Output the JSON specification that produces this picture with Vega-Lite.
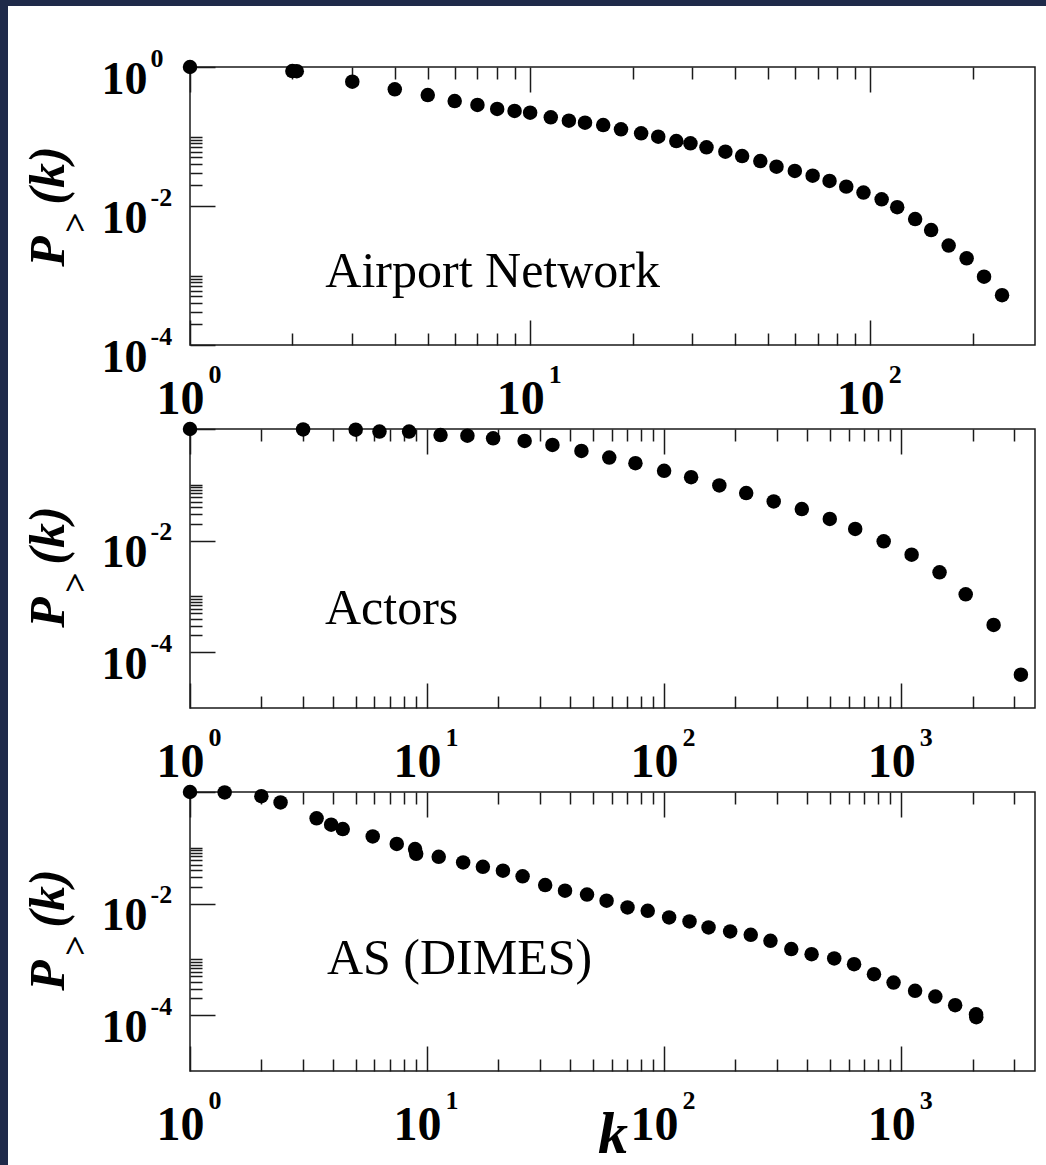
{
  "$schema": "https://vega.github.io/schema/vega-lite/v6.json",
  "autosize": {"type": "none"},
  "padding": {"left": 0, "top": 67, "right": 1046, "bottom": 1098},
  "background": "#1f2a4a",
  "spacing": 189,
  "bounds": "flush",
  "resolve": {"scale": {"color": "independent"}, "legend": {"color": "independent"}},
  "config": {
    "view": {"stroke": "#1a1a1a", "strokeWidth": 1.5},
    "axis": {
      "domain": false, "grid": false,
      "tickColor": "#1a1a1a", "tickWidth": 1.5,
      "labelFont": "Liberation Serif", "labelFontWeight": "bold", "labelFontSize": 46, "labelColor": "black",
      "labelOverlap": false, "labelFlush": false, "labelBound": false,
      "titleFont": "Liberation Serif", "titleFontWeight": "bold", "titleFontStyle": "italic", "titleColor": "black", "titleFontSize": 50
    }
  },
  "datasets": {
    "airport": [
      {"k": 1, "P": 1}, {"k": 2, "P": 0.875}, {"k": 2.06, "P": 0.87}, {"k": 3, "P": 0.615}, {"k": 4, "P": 0.478},
      {"k": 5, "P": 0.395}, {"k": 6, "P": 0.324}, {"k": 7, "P": 0.284}, {"k": 8, "P": 0.249}, {"k": 9, "P": 0.233},
      {"k": 10, "P": 0.22}, {"k": 11.5, "P": 0.189}, {"k": 13, "P": 0.169}, {"k": 14.5, "P": 0.158}, {"k": 16.4, "P": 0.146},
      {"k": 18.5, "P": 0.127}, {"k": 21.2, "P": 0.111}, {"k": 23.8, "P": 0.0993}, {"k": 26.9, "P": 0.086}, {"k": 29.6, "P": 0.0798},
      {"k": 33, "P": 0.07}, {"k": 37.5, "P": 0.0605}, {"k": 42, "P": 0.0524}, {"k": 47.5, "P": 0.0444}, {"k": 53, "P": 0.0368},
      {"k": 60, "P": 0.0319}, {"k": 67.7, "P": 0.0273}, {"k": 75.9, "P": 0.0229}, {"k": 85, "P": 0.019}, {"k": 95.5, "P": 0.0156},
      {"k": 108, "P": 0.0125}, {"k": 120, "P": 0.0096}, {"k": 135.5, "P": 0.0065}, {"k": 151, "P": 0.0045}, {"k": 170, "P": 0.0027},
      {"k": 192, "P": 0.00177}, {"k": 216, "P": 0.00096}, {"k": 244, "P": 0.00052}
    ],
    "actors": [
      {"k": 1, "P": 1}, {"k": 3, "P": 0.98}, {"k": 5, "P": 0.97}, {"k": 6.3, "P": 0.9}, {"k": 8.4, "P": 0.9},
      {"k": 11.4, "P": 0.78}, {"k": 14.8, "P": 0.76}, {"k": 19, "P": 0.68}, {"k": 25.8, "P": 0.61}, {"k": 33.8, "P": 0.518},
      {"k": 44.8, "P": 0.405}, {"k": 58.7, "P": 0.308}, {"k": 75.7, "P": 0.244}, {"k": 100, "P": 0.178}, {"k": 130, "P": 0.137},
      {"k": 171, "P": 0.0973}, {"k": 222, "P": 0.071}, {"k": 290, "P": 0.0504}, {"k": 381, "P": 0.0367}, {"k": 500, "P": 0.0244},
      {"k": 640, "P": 0.0162}, {"k": 844, "P": 0.0097}, {"k": 1107, "P": 0.0056}, {"k": 1452, "P": 0.0027}, {"k": 1872, "P": 0.00109},
      {"k": 2455, "P": 0.000308}, {"k": 3200, "P": 0.0000395}
    ],
    "as": [
      {"k": 1, "P": 1}, {"k": 1.4, "P": 0.98}, {"k": 2, "P": 0.84}, {"k": 2.41, "P": 0.65}, {"k": 3.42, "P": 0.337},
      {"k": 3.94, "P": 0.259}, {"k": 4.41, "P": 0.217}, {"k": 5.9, "P": 0.16}, {"k": 7.45, "P": 0.117}, {"k": 8.9, "P": 0.095},
      {"k": 9.0, "P": 0.078}, {"k": 11.2, "P": 0.069}, {"k": 14.2, "P": 0.0547}, {"k": 17.2, "P": 0.0457}, {"k": 20.9, "P": 0.0388},
      {"k": 25.3, "P": 0.0308}, {"k": 31.5, "P": 0.0215}, {"k": 38.2, "P": 0.017}, {"k": 47.3, "P": 0.0145}, {"k": 57.2, "P": 0.01125},
      {"k": 70.1, "P": 0.00853}, {"k": 85.3, "P": 0.00743}, {"k": 105, "P": 0.00565}, {"k": 128, "P": 0.00479}, {"k": 154, "P": 0.00374},
      {"k": 190, "P": 0.00317}, {"k": 232, "P": 0.00276}, {"k": 281, "P": 0.00215}, {"k": 344, "P": 0.00153}, {"k": 419, "P": 0.00124},
      {"k": 522, "P": 0.00104}, {"k": 633, "P": 0.00082}, {"k": 768, "P": 0.000543}, {"k": 929, "P": 0.000385}, {"k": 1145, "P": 0.000273},
      {"k": 1394, "P": 0.000216}, {"k": 1690, "P": 0.000151}, {"k": 2070, "P": 0.000104}, {"k": 2075, "P": 0.000092}
    ]
  },
  "hconcat": [
    {
      "width": 1, "height": 1,
      "view": {"stroke": null, "fill": null},
      "data": {"values": [{"v": 0}, {"v": 1}]},
      "mark": {"type": "point", "opacity": 0},
      "encoding": {
        "color": {"field": "v", "type": "quantitative", "scale": {"range": ["white", "white"]},
          "legend": {"type": "gradient", "orient": "none", "legendX": 8, "legendY": -61, "direction": "vertical",
            "gradientLength": 1200, "gradientThickness": 1100, "gradientStrokeWidth": 0, "padding": 0,
            "fillColor": "white", "strokeColor": null, "title": null, "labelExpr": "''", "labelOffset": 0}}
      }
    },
    {
      "spacing": 84,
      "bounds": "flush",
      "vconcat": [
        {
          "width": 845, "height": 278,
          "resolve": {"axis": {"x": "independent", "y": "independent"}},
          "layer": [
            {
              "data": {"name": "airport"},
              "mark": {"type": "point", "filled": true, "shape": "circle", "size": 210, "color": "black", "opacity": 1},
              "encoding": {
                "x": {"field": "k", "type": "quantitative", "scale": {"type": "log", "domain": [1, 305], "nice": false},
                  "axis": {"orient": "bottom", "values": [1,2,3,4,5,6,7,8,9,10,20,30,40,50,60,70,80,90,100,200],
                    "tickSize": {"condition": {"test": "datum.value == 1 || datum.value == 10 || datum.value == 100 || datum.value == 1000", "value": -25}, "value": -12},
                    "labelExpr": "datum.value == 1 || datum.value == 10 || datum.value == 100 || datum.value == 1000 ? '10' : ''",
                    "labelFontSize": 48, "labelPadding": 93, "labelBaseline": "alphabetic", "labelOffset": -10, "title": null}},
                "y": {"field": "P", "type": "quantitative", "scale": {"type": "log", "domain": [0.0001, 1], "nice": false},
                  "axis": {"orient": "left", "values": [1, 0.1, 0.09, 0.08, 0.07, 0.06, 0.05, 0.04, 0.03, 0.02, 0.01, 0.001, 0.0009, 0.0008, 0.0007, 0.0006, 0.0005, 0.0004, 0.0003, 0.0002, 0.0001],
                    "tickSize": {"condition": {"test": "datum.value == 1 || datum.value == 0.01 || datum.value == 0.0001", "value": -25}, "value": -12},
                    "labelExpr": "datum.value == 1 || datum.value == 0.01 || datum.value == 0.0001 ? '10' : ''",
                    "labelPadding": 68, "labelBaseline": "alphabetic", "labelOffset": 26,
                    "title": "P", "titleX": -127, "titleY": 184, "titleBaseline": "alphabetic"}}
              }
            },
            {
              "data": {"name": "airport"},
              "mark": {"type": "point", "opacity": 0},
              "encoding": {
                "x": {"field": "k", "type": "quantitative", "scale": {"type": "log", "domain": [1, 305], "nice": false},
                  "axis": {"orient": "top", "values": [1,2,3,4,5,6,7,8,9,10,20,30,40,50,60,70,80,90,100,200], "labels": false,
                    "tickSize": {"condition": {"test": "datum.value == 1 || datum.value == 10 || datum.value == 100 || datum.value == 1000", "value": -25}, "value": -12},
                    "title": null}},
                "y": {"field": "P", "type": "quantitative", "scale": {"type": "log", "domain": [0.0001, 1], "nice": false},
                  "axis": {"orient": "left", "values": [1, 0.01, 0.0001], "ticks": false, "tickSize": 0,
                    "labelExpr": "datum.value == 1 ? '0' : datum.value == 0.01 ? '-2' : '-4'",
                    "labelAlign": "left", "labelPadding": 40, "labelFontSize": 26, "labelBaseline": "alphabetic", "labelOffset": -1,
                    "title": ">", "titleX": -104, "titleY": 155, "titleBaseline": "alphabetic", "titleFontSize": 36, "titleFontStyle": "normal"}}
              }
            },
            {
              "data": {"name": "airport"},
              "mark": {"type": "point", "opacity": 0},
              "encoding": {
                "x": {"field": "k", "type": "quantitative", "scale": {"type": "log", "domain": [1, 305], "nice": false},
                  "axis": {"orient": "bottom", "values": [1, 10, 100], "ticks": false, "tickSize": 0,
                    "labelExpr": "datum.value == 1 ? '0' : datum.value == 10 ? '1' : '2'",
                    "labelAlign": "left", "labelPadding": 37, "labelOffset": 18, "labelFontSize": 26, "labelBaseline": "alphabetic", "title": null}},
                "y": {"field": "P", "type": "quantitative", "scale": {"type": "log", "domain": [0.0001, 1], "nice": false},
                  "axis": {"orient": "left", "labels": false, "ticks": false,
                    "title": "(k)", "titleX": -127, "titleY": 108, "titleBaseline": "alphabetic"}}
              }
            },
            {
              "data": {"values": [{"label": "Airport Network", "k": 2.5, "P": 0.00068}]},
              "mark": {"type": "text", "font": "Liberation Serif", "fontSize": 50, "align": "left", "baseline": "alphabetic", "color": "black"},
              "encoding": {
                "x": {"field": "k", "type": "quantitative", "scale": {"type": "log", "domain": [1, 305], "nice": false}, "axis": null},
                "y": {"field": "P", "type": "quantitative", "scale": {"type": "log", "domain": [0.0001, 1], "nice": false}, "axis": null},
                "text": {"field": "label"}
              }
            }
          ]
        },
        {
          "width": 845, "height": 279,
          "resolve": {"axis": {"x": "independent", "y": "independent"}},
          "layer": [
            {
              "data": {"name": "actors"},
              "mark": {"type": "point", "filled": true, "shape": "circle", "size": 210, "color": "black", "opacity": 1},
              "encoding": {
                "x": {"field": "k", "type": "quantitative", "scale": {"type": "log", "domain": [1, 3670], "nice": false},
                  "axis": {"orient": "bottom", "values": [1,2,3,4,5,6,7,8,9,10,20,30,40,50,60,70,80,90,100,200,300,400,500,600,700,800,900,1000,2000,3000],
                    "tickSize": {"condition": {"test": "datum.value == 1 || datum.value == 10 || datum.value == 100 || datum.value == 1000", "value": -25}, "value": -12},
                    "labelExpr": "datum.value == 1 || datum.value == 10 || datum.value == 100 || datum.value == 1000 ? '10' : ''",
                    "labelFontSize": 48, "labelPadding": 93, "labelBaseline": "alphabetic", "labelOffset": -10, "title": null}},
                "y": {"field": "P", "type": "quantitative", "scale": {"type": "log", "domain": [0.00001, 1], "nice": false},
                  "axis": {"orient": "left", "values": [1, 0.1, 0.09, 0.08, 0.07, 0.06, 0.05, 0.04, 0.03, 0.02, 0.01, 0.001, 0.0009, 0.0008, 0.0007, 0.0006, 0.0005, 0.0004, 0.0003, 0.0002, 0.0001],
                    "tickSize": {"condition": {"test": "datum.value == 1 || datum.value == 0.01 || datum.value == 0.0001", "value": -25}, "value": -12},
                    "labelExpr": "datum.value == 0.01 || datum.value == 0.0001 ? '10' : ''",
                    "labelPadding": 68, "labelBaseline": "alphabetic", "labelOffset": 26,
                    "title": "P", "titleX": -127, "titleY": 183, "titleBaseline": "alphabetic"}}
              }
            },
            {
              "data": {"name": "actors"},
              "mark": {"type": "point", "opacity": 0},
              "encoding": {
                "x": {"field": "k", "type": "quantitative", "scale": {"type": "log", "domain": [1, 3670], "nice": false},
                  "axis": {"orient": "top", "values": [1,2,3,4,5,6,7,8,9,10,20,30,40,50,60,70,80,90,100,200,300,400,500,600,700,800,900,1000,2000,3000], "labels": false,
                    "tickSize": {"condition": {"test": "datum.value == 1 || datum.value == 10 || datum.value == 100 || datum.value == 1000", "value": -25}, "value": -12},
                    "title": null}},
                "y": {"field": "P", "type": "quantitative", "scale": {"type": "log", "domain": [0.00001, 1], "nice": false},
                  "axis": {"orient": "left", "values": [0.01, 0.0001], "ticks": false, "tickSize": 0,
                    "labelExpr": "datum.value == 0.01 ? '-2' : '-4'",
                    "labelAlign": "left", "labelPadding": 40, "labelFontSize": 26, "labelBaseline": "alphabetic", "labelOffset": -1,
                    "title": ">", "titleX": -104, "titleY": 153, "titleBaseline": "alphabetic", "titleFontSize": 36, "titleFontStyle": "normal"}}
              }
            },
            {
              "data": {"name": "actors"},
              "mark": {"type": "point", "opacity": 0},
              "encoding": {
                "x": {"field": "k", "type": "quantitative", "scale": {"type": "log", "domain": [1, 3670], "nice": false},
                  "axis": {"orient": "bottom", "values": [1, 10, 100, 1000], "ticks": false, "tickSize": 0,
                    "labelExpr": "datum.value == 1 ? '0' : datum.value == 10 ? '1' : datum.value == 100 ? '2' : '3'",
                    "labelAlign": "left", "labelPadding": 37, "labelOffset": 18, "labelFontSize": 26, "labelBaseline": "alphabetic", "title": null}},
                "y": {"field": "P", "type": "quantitative", "scale": {"type": "log", "domain": [0.00001, 1], "nice": false},
                  "axis": {"orient": "left", "labels": false, "ticks": false,
                    "title": "(k)", "titleX": -127, "titleY": 106, "titleBaseline": "alphabetic"}}
              }
            },
            {
              "data": {"values": [{"label": "Actors", "k": 3.71, "P": 0.000316}]},
              "mark": {"type": "text", "font": "Liberation Serif", "fontSize": 50, "align": "left", "baseline": "alphabetic", "color": "black"},
              "encoding": {
                "x": {"field": "k", "type": "quantitative", "scale": {"type": "log", "domain": [1, 3670], "nice": false}, "axis": null},
                "y": {"field": "P", "type": "quantitative", "scale": {"type": "log", "domain": [0.00001, 1], "nice": false}, "axis": null},
                "text": {"field": "label"}
              }
            }
          ]
        },
        {
          "width": 845, "height": 279,
          "resolve": {"axis": {"x": "independent", "y": "independent"}},
          "layer": [
            {
              "data": {"name": "as"},
              "mark": {"type": "point", "filled": true, "shape": "circle", "size": 210, "color": "black", "opacity": 1},
              "encoding": {
                "x": {"field": "k", "type": "quantitative", "scale": {"type": "log", "domain": [1, 3670], "nice": false},
                  "axis": {"orient": "bottom", "values": [1,2,3,4,5,6,7,8,9,10,20,30,40,50,60,70,80,90,100,200,300,400,500,600,700,800,900,1000,2000,3000],
                    "tickSize": {"condition": {"test": "datum.value == 1 || datum.value == 10 || datum.value == 100 || datum.value == 1000", "value": -25}, "value": -12},
                    "labelExpr": "datum.value == 1 || datum.value == 10 || datum.value == 100 || datum.value == 1000 ? '10' : ''",
                    "labelFontSize": 48, "labelPadding": 93, "labelBaseline": "alphabetic", "labelOffset": -10,
                    "title": "k", "titleFontSize": 60, "titleY": 34, "titleBaseline": "top"}},
                "y": {"field": "P", "type": "quantitative", "scale": {"type": "log", "domain": [0.00001, 1], "nice": false},
                  "axis": {"orient": "left", "values": [1, 0.1, 0.09, 0.08, 0.07, 0.06, 0.05, 0.04, 0.03, 0.02, 0.01, 0.001, 0.0009, 0.0008, 0.0007, 0.0006, 0.0005, 0.0004, 0.0003, 0.0002, 0.0001],
                    "tickSize": {"condition": {"test": "datum.value == 1 || datum.value == 0.01 || datum.value == 0.0001", "value": -25}, "value": -12},
                    "labelExpr": "datum.value == 0.01 || datum.value == 0.0001 ? '10' : ''",
                    "labelPadding": 68, "labelBaseline": "alphabetic", "labelOffset": 26,
                    "title": "P", "titleX": -127, "titleY": 183, "titleBaseline": "alphabetic"}}
              }
            },
            {
              "data": {"name": "as"},
              "mark": {"type": "point", "opacity": 0},
              "encoding": {
                "x": {"field": "k", "type": "quantitative", "scale": {"type": "log", "domain": [1, 3670], "nice": false},
                  "axis": {"orient": "top", "values": [1,2,3,4,5,6,7,8,9,10,20,30,40,50,60,70,80,90,100,200,300,400,500,600,700,800,900,1000,2000,3000], "labels": false,
                    "tickSize": {"condition": {"test": "datum.value == 1 || datum.value == 10 || datum.value == 100 || datum.value == 1000", "value": -25}, "value": -12},
                    "title": null}},
                "y": {"field": "P", "type": "quantitative", "scale": {"type": "log", "domain": [0.00001, 1], "nice": false},
                  "axis": {"orient": "left", "values": [0.01, 0.0001], "ticks": false, "tickSize": 0,
                    "labelExpr": "datum.value == 0.01 ? '-2' : '-4'",
                    "labelAlign": "left", "labelPadding": 40, "labelFontSize": 26, "labelBaseline": "alphabetic", "labelOffset": -1,
                    "title": ">", "titleX": -104, "titleY": 153, "titleBaseline": "alphabetic", "titleFontSize": 36, "titleFontStyle": "normal"}}
              }
            },
            {
              "data": {"name": "as"},
              "mark": {"type": "point", "opacity": 0},
              "encoding": {
                "x": {"field": "k", "type": "quantitative", "scale": {"type": "log", "domain": [1, 3670], "nice": false},
                  "axis": {"orient": "bottom", "values": [1, 10, 100, 1000], "ticks": false, "tickSize": 0,
                    "labelExpr": "datum.value == 1 ? '0' : datum.value == 10 ? '1' : datum.value == 100 ? '2' : '3'",
                    "labelAlign": "left", "labelPadding": 37, "labelOffset": 18, "labelFontSize": 26, "labelBaseline": "alphabetic", "title": null}},
                "y": {"field": "P", "type": "quantitative", "scale": {"type": "log", "domain": [0.00001, 1], "nice": false},
                  "axis": {"orient": "left", "labels": false, "ticks": false,
                    "title": "(k)", "titleX": -127, "titleY": 106, "titleBaseline": "alphabetic"}}
              }
            },
            {
              "data": {"values": [{"label": "AS (DIMES)", "k": 3.78, "P": 0.00054}]},
              "mark": {"type": "text", "font": "Liberation Serif", "fontSize": 50, "align": "left", "baseline": "alphabetic", "color": "black"},
              "encoding": {
                "x": {"field": "k", "type": "quantitative", "scale": {"type": "log", "domain": [1, 3670], "nice": false}, "axis": null},
                "y": {"field": "P", "type": "quantitative", "scale": {"type": "log", "domain": [0.00001, 1], "nice": false}, "axis": null},
                "text": {"field": "label"}
              }
            }
          ]
        }
      ]
    }
  ]
}
